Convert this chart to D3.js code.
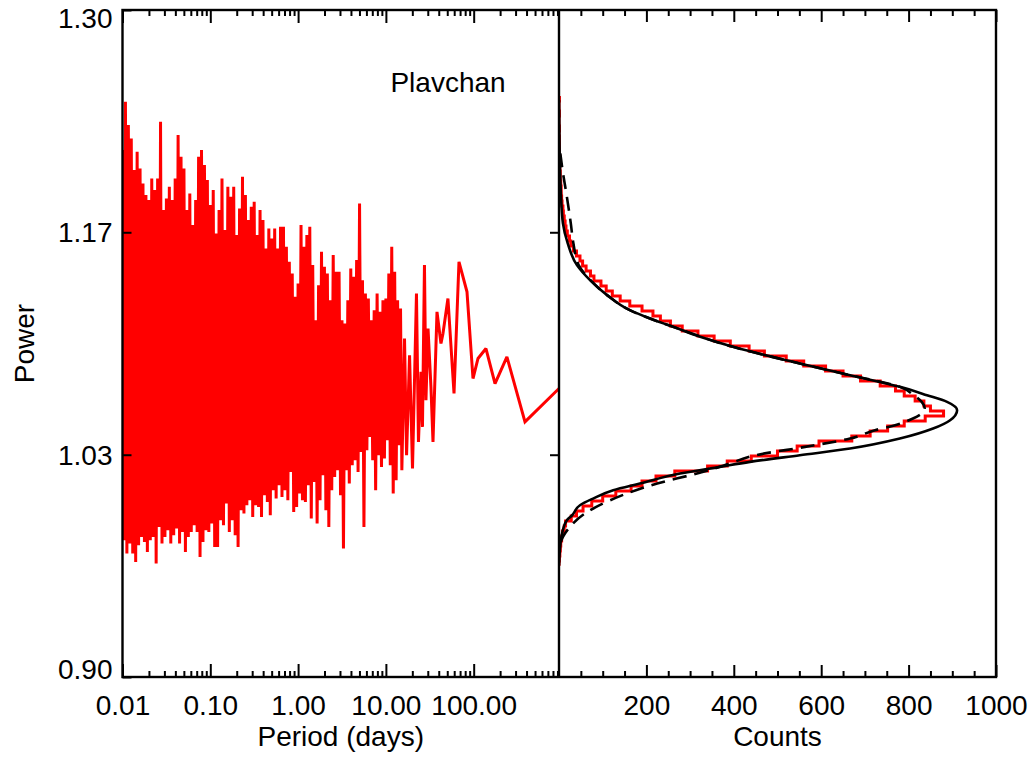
<!DOCTYPE html>
<html><head><meta charset="utf-8">
<script src="https://cdn.jsdelivr.net/npm/d3@7"></script>
<style>
body{margin:0;background:#fff}
svg{display:block}
text{font-family:"Liberation Sans",Arial,Helvetica,sans-serif;fill:#000}
</style>
</head><body>
<svg id="chart" width="1034" height="757"></svg>
<script>
// ---------- DATA ----------
// Periodogram (Plavchan): period in days, power
const periods = [
0.01,0.01039,0.0108,0.01122,0.01166,0.01212,0.01259,0.01308,0.01359,0.01413,
0.01468,0.01525,0.01585,0.01647,0.01711,0.01778,0.01848,0.0192,0.01995,0.02073,
0.02154,0.02239,0.02326,0.02417,0.02512,0.0261,0.02712,0.02818,0.02929,0.03043,
0.03162,0.03286,0.03415,0.03548,0.03687,0.03831,0.03981,0.04137,0.04299,0.04467,
0.04642,0.04823,0.05012,0.05208,0.05412,0.05623,0.05843,0.06072,0.0631,0.06556,
0.06813,0.0708,0.07356,0.07644,0.07943,0.08254,0.08577,0.08913,0.09261,0.09624,
0.1,0.1039,0.108,0.1122,0.1166,0.1212,0.1259,0.1308,0.1359,0.1413,
0.1468,0.1525,0.1585,0.1647,0.1711,0.1778,0.1848,0.192,0.1995,0.2073,
0.2154,0.2239,0.2326,0.2417,0.2512,0.261,0.2712,0.2818,0.2929,0.3043,
0.3162,0.3286,0.3415,0.3548,0.3687,0.3831,0.3981,0.4137,0.4299,0.4467,
0.4642,0.4823,0.5012,0.5208,0.5412,0.5623,0.5843,0.6072,0.631,0.6556,
0.6813,0.708,0.7356,0.7644,0.7943,0.8254,0.8577,0.8913,0.9261,0.9624,
1,1.039,1.08,1.122,1.166,1.212,1.259,1.308,1.359,1.413,
1.468,1.525,1.585,1.647,1.711,1.778,1.848,1.92,1.995,2.073,
2.154,2.239,2.326,2.417,2.512,2.61,2.712,2.818,2.929,3.043,
3.162,3.286,3.415,3.548,3.687,3.831,3.981,4.137,4.299,4.467,
4.642,4.823,5.012,5.208,5.412,5.623,5.843,6.072,6.31,6.556,
6.813,7.08,7.356,7.644,7.943,8.254,8.577,8.913,9.261,9.624,
10,10.39,10.8,11.22,11.66,12.12,12.59,13.08,13.59,14.13,14.68,
15.2,16.3,17.2,18.6,20.1,22.3,23.5,25.1,26.1,27.5,28.6,30.2,32.6,34.4,
38.2,42.4,44.7,50.9,59.7,68.0,83.9,98.2,112,138,175,239,384,937
];
const power = [
1.216,0.982,1.245,0.974,1.231,0.980,1.223,0.974,1.204,0.969,
1.215,0.979,1.205,0.984,1.196,0.981,1.189,0.975,1.186,0.982,
1.199,0.984,1.192,0.968,1.199,0.990,1.233,0.980,1.180,0.984,
1.187,0.988,1.194,0.980,1.186,0.985,1.199,0.989,1.225,0.980,
1.212,0.987,1.205,0.975,1.180,0.984,1.190,0.987,1.171,0.991,
1.186,0.987,1.212,0.972,1.216,0.981,1.207,0.988,1.198,0.987,
1.183,0.992,1.192,0.978,1.166,0.978,1.180,0.994,1.199,0.991,
1.168,1.004,1.194,0.987,1.188,0.994,1.194,0.985,1.165,0.978,
1.181,1.000,1.200,0.998,1.189,1.003,1.174,1.006,1.182,0.996,
1.185,1.003,1.165,1.002,1.180,0.996,1.174,1.009,1.157,1.005,
1.169,0.997,1.163,1.012,1.169,1.007,1.157,1.015,1.170,1.008,
1.170,1.012,1.158,1.006,1.149,1.023,1.142,0.999,1.128,1.002,
1.136,1.010,1.171,1.006,1.158,1.005,1.165,1.015,1.170,0.995,
1.147,1.017,1.114,0.992,1.135,1.006,1.155,1.021,1.146,1.000,
1.142,0.990,1.126,1.012,1.153,1.020,1.143,1.024,1.143,1.009,
1.114,0.977,1.112,1.024,1.126,1.016,1.145,1.027,1.140,1.030,
1.150,1.023,1.184,1.035,1.138,0.990,1.130,1.036,1.127,1.044,
1.114,1.030,1.120,1.012,1.130,1.033,1.119,1.026,1.126,1.031,
1.127,1.042,1.142,1.027,1.158,1.010,1.143,1.018,1.126,1.039,1.121,
1.024,1.103,1.033,1.093,1.025,1.130,1.041,1.083,1.050,1.147,1.066,1.109,1.074,1.041,
1.119,1.100,1.106,1.127,1.070,1.149,1.131,1.079,1.091,1.097,1.076,1.092,1.053,1.073
];

// Histogram of power values (bin centre, counts)
const histPower = [
0.968,0.971,0.974,0.977,0.980,0.983,0.986,0.989,0.992,0.995,
0.998,1.001,1.004,1.007,1.010,1.013,1.016,1.019,1.022,1.025,
1.028,1.031,1.034,1.037,1.040,1.043,1.046,1.049,1.052,1.055,
1.058,1.061,1.064,1.067,1.070,1.073,1.076,1.079,1.082,1.085,
1.088,1.091,1.094,1.097,1.100,1.103,1.106,1.109,1.112,1.115,
1.118,1.121,1.124,1.127,1.130,1.133,1.136,1.139,1.142,1.145,
1.148,1.151,1.154,1.157,1.160,1.163,1.166,1.169,1.172,1.175,
1.178,1.181,1.184,1.187,1.190,1.193,1.196,1.199,1.202,1.205,
1.208,1.211,1.214,1.217,1.220,1.223,1.226,1.229,1.232,1.235,
1.238,1.241,1.244,1.247
];
const histCounts = [
0,1,2,3,4,6,8,12,15,28,
40,55,75,100,130,165,190,222,265,340,
385,440,500,545,595,670,712,752,790,838,
880,850,835,815,790,770,735,690,650,610,
560,520,470,435,392,355,318,282,255,232,
215,190,162,140,122,108,96,80,72,62,
54,48,40,33,27,24,19,16,14,12,
10,9,7,6,5,5,4,3,3,2,
2,2,1,1,1,1,0,1,0,0,
1,0,0,1
];

// Solid fitted curve
const fitPower = [1.246,1.222,1.192,1.172,1.160,1.147,1.138,1.129,1.120,1.115,1.110,1.104,1.098,1.088,1.081,1.074,1.069,1.065,1.060,1.054,1.049,1.043,1.037,1.033,1.029,1.026,1.022,1.016,1.012,1.007,1.003,0.997,0.994,0.986,0.976,0.967];
const fitCounts = [0,1,4,9,20,41,71,110,162,208,261,323,398,551,666,780,842,888,911,895,856,780,666,551,437,368,277,185,124,78,48,30,18,7,2,0];

// Dashed fitted curve
const dashPower = [1.214,1.206,1.188,1.172,1.160,1.147,1.138,1.129,1.120,1.110,1.098,1.088,1.081,1.074,1.069,1.065,1.061,1.058,1.055,1.051,1.048,1.043,1.038,1.033,1.028,1.025,1.021,1.017,1.012,1.006,0.998,0.990,0.984,0.976];
const dashCounts = [3,7,18,27,33,45,72,110,162,261,398,551,666,780,812,830,837,830,810,769,723,666,563,450,390,355,300,238,176,117,59,25,9,0];

// Ticks & labels
const periodTicks = [0.01,0.1,1,10,100];
const periodTickLabels = ["0.01","0.10","1.00","10.00","100.00"];
const periodMinorTicks = [0.02,0.03,0.04,0.05,0.06,0.07,0.08,0.09,0.2,0.3,0.4,0.5,0.6,0.7,0.8,0.9,2,3,4,5,6,7,8,9,20,30,40,50,60,70,80,90,200,300,400,500,600,700,800,900];
const powerTicks = [0.9,1.0333,1.1667,1.3];
const powerTickLabels = ["0.90","1.03","1.17","1.30"];
const countTicks = [200,400,600,800,1000];
const countMinorTicks = [50,100,150,250,300,350,450,500,550,650,700,750,850,900,950];
const titleText = "Plavchan";
const xTitleLeft = "Period (days)";
const xTitleRight = "Counts";
const yTitle = "Power";

// ---------- LAYOUT ----------
const L = 122.5, MID = 559, R = 996, T = 10, B = 677;
const FS = 28;

const svg = d3.select("#chart");
const xL = d3.scaleLog().domain([0.01, 937]).range([L, MID]);
const xR = d3.scaleLinear().domain([0, 1000]).range([MID, R]);
const y = d3.scaleLinear().domain([0.9, 1.3]).range([B, T]);

const defs = svg.append("defs");
defs.append("clipPath").attr("id","clipL").append("rect")
  .attr("x",L).attr("y",T).attr("width",MID-L).attr("height",B-T);
defs.append("clipPath").attr("id","clipR").append("rect")
  .attr("x",MID).attr("y",T).attr("width",R-MID).attr("height",B-T);

function styleAxis(g, labels){
  g.select(".domain").remove();
  g.selectAll(".tick line").attr("stroke","#000").attr("stroke-width",2);
  g.selectAll(".tick text").attr("font-size",FS).attr("font-family",'"Liberation Sans",Arial,sans-serif').attr("fill","#000");
  if(!labels) g.selectAll(".tick text").remove();
}

// ---------- LEFT PANEL DATA ----------
const pts = periods.map((p,i)=>[p, power[i]]);
svg.append("path")
  .attr("clip-path","url(#clipL)")
  .attr("d", d3.line().x(d=>xL(d[0])).y(d=>y(d[1]))(pts))
  .attr("fill","none").attr("stroke","#ff0000").attr("stroke-width",3)
  .attr("stroke-linejoin","miter").attr("stroke-miterlimit",2);

// ---------- RIGHT PANEL DATA ----------
const hw = (histPower[1]-histPower[0])/2;
const stepPts = [];
histPower.forEach((p,i)=>{ stepPts.push([histCounts[i], p-hw]); stepPts.push([histCounts[i], p+hw]); });
const gR = svg.append("g").attr("clip-path","url(#clipR)");
gR.append("path")
  .attr("d", d3.line().x(d=>xR(d[0])).y(d=>y(d[1]))(stepPts))
  .attr("fill","none").attr("stroke","#ff0000").attr("stroke-width",3);

const curveLine = d3.line().x(d=>xR(d[0])).y(d=>y(d[1])).curve(d3.curveMonotoneY);
gR.append("path")
  .attr("d", curveLine(dashPower.map((p,i)=>[dashCounts[i],p])))
  .attr("fill","none").attr("stroke","#000").attr("stroke-width",2.6)
  .attr("stroke-dasharray","14,8");
gR.append("path")
  .attr("d", curveLine(fitPower.map((p,i)=>[fitCounts[i],p])))
  .attr("fill","none").attr("stroke","#000").attr("stroke-width",2.6);

// ---------- AXES ----------
styleAxis(svg.append("g").attr("transform",`translate(0,${B})`)
  .call(d3.axisBottom(xL).tickValues(periodTicks).tickFormat((d,i)=>periodTickLabels[i])
    .tickSizeInner(-13).tickSizeOuter(0).tickPadding(18)), true);
styleAxis(svg.append("g").attr("transform",`translate(0,${B})`)
  .call(d3.axisBottom(xL).tickValues(periodMinorTicks).tickFormat("").tickSizeInner(-6).tickSizeOuter(0)), false);
styleAxis(svg.append("g").attr("transform",`translate(0,${T})`)
  .call(d3.axisTop(xL).tickValues(periodTicks).tickFormat("").tickSizeInner(-13).tickSizeOuter(0)), false);
styleAxis(svg.append("g").attr("transform",`translate(0,${T})`)
  .call(d3.axisTop(xL).tickValues(periodMinorTicks).tickFormat("").tickSizeInner(-6).tickSizeOuter(0)), false);
const gy = svg.append("g").attr("transform",`translate(${L},0)`)
  .call(d3.axisLeft(y).tickValues(powerTicks).tickFormat((d,i)=>powerTickLabels[i])
    .tickSizeInner(-9).tickSizeOuter(0).tickPadding(10));
styleAxis(gy, true);
gy.selectAll(".tick text").attr("dy", (d,i)=> i===0 ? "0.05em" : (i===powerTicks.length-1 ? "0.63em" : "0.34em"));
styleAxis(svg.append("g").attr("transform",`translate(${MID},0)`)
  .call(d3.axisRight(y).tickValues(powerTicks.slice(1,-1)).tickFormat("").tickSizeInner(-9).tickSizeOuter(0)), false);

styleAxis(svg.append("g").attr("transform",`translate(0,${B})`)
  .call(d3.axisBottom(xR).tickValues(countTicks).tickFormat(d3.format("d"))
    .tickSizeInner(-12).tickSizeOuter(0).tickPadding(18)), true);
styleAxis(svg.append("g").attr("transform",`translate(0,${B})`)
  .call(d3.axisBottom(xR).tickValues(countMinorTicks).tickFormat("").tickSizeInner(-6).tickSizeOuter(0)), false);
styleAxis(svg.append("g").attr("transform",`translate(0,${T})`)
  .call(d3.axisTop(xR).tickValues(countTicks).tickFormat("").tickSizeInner(-12).tickSizeOuter(0)), false);
styleAxis(svg.append("g").attr("transform",`translate(0,${T})`)
  .call(d3.axisTop(xR).tickValues(countMinorTicks).tickFormat("").tickSizeInner(-6).tickSizeOuter(0)), false);

svg.append("rect").attr("x",L).attr("y",T).attr("width",R-L).attr("height",B-T)
  .attr("fill","none").attr("stroke","#000").attr("stroke-width",2.4);
svg.append("line").attr("x1",MID).attr("x2",MID).attr("y1",T).attr("y2",B)
  .attr("stroke","#000").attr("stroke-width",2.4);

// ---------- TITLES ----------
svg.append("text").attr("x",(L+MID)/2).attr("y",746).attr("text-anchor","middle")
  .attr("font-size",FS).text(xTitleLeft);
svg.append("text").attr("x",(MID+R)/2).attr("y",746).attr("text-anchor","middle")
  .attr("font-size",FS).text(xTitleRight);
svg.append("text").attr("transform",`translate(34,${(T+B)/2}) rotate(-90)`)
  .attr("text-anchor","middle").attr("font-size",FS).text(yTitle);
svg.append("text").attr("x",448).attr("y",92).attr("text-anchor","middle")
  .attr("font-size",FS).text(titleText);
</script>
</body></html>
